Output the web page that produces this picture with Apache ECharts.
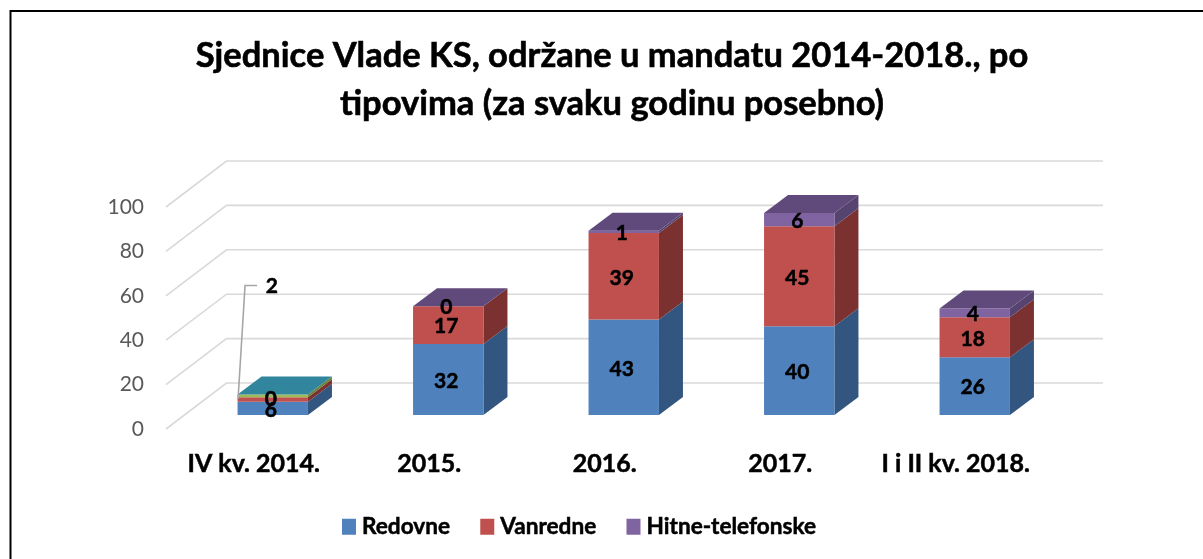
<!DOCTYPE html>
<html>
<head>
<meta charset="utf-8">
<style>html,body{margin:0;padding:0;background:#fff}#c{width:1203px;height:559px}</style>
<script src="https://cdn.jsdelivr.net/npm/echarts@6/dist/echarts.min.js"></script>
</head>
<body>
<div id="c"></div>
<script>
const categories = ['IV kv. 2014.', '2015.', '2016.', '2017.', 'I i II kv. 2018.'];
const yTicks = [0, 20, 40, 60, 80, 100];
const redovne = [6, 32, 43, 40, 26];
const vanredne = [2, 17, 39, 45, 18];
const hitne = [0, 0, 1, 6, 4];
// two unnamed series that only appear on the first bar (not in the legend)
const unnamedGreen = [1.2, null, null, null, null];
const unnamedTeal = [0, null, null, null, null];

const FONT = 'Lato, Carlito, sans-serif';
const stacks = [
  {name: 'Redovne', values: redovne, front: '#4f81bd', side: '#32567f', top: '#3c6696', label: true},
  {name: 'Vanredne', values: vanredne, front: '#c0504d', side: '#7a312f', top: '#923b39', label: true},
  {name: 'Hitne-telefonske', values: hitne, front: '#8064a2', side: '#57436f', top: '#604a7b', label: true},
  {name: 'unnamedGreen', values: unnamedGreen, front: '#9bbb59', side: '#6b823d', top: '#7a9445', label: false},
  {name: 'unnamedTeal', values: unnamedTeal, front: '#31859c', side: '#2a6f83', top: '#31859c', label: false}
];

// oblique projection: where the bars stand relative to the axis plane
const INSET = {x: 19, y: -14};
const DEPTH = {x: 24, y: -18};
const BACK = {x: 60.5, y: -46};
const BAR_W = 70.4;
const GRID_END = 1103;

function renderGrid(params, api) {
  const p = api.coord([0, api.value(1)]);
  const x0 = params.coordSys.x;
  const y = p[1];
  return {
    type: 'polyline',
    shape: {points: [[x0, y], [x0 + BACK.x, y + BACK.y], [GRID_END, y + BACK.y]]},
    style: {fill: 'none', stroke: '#d9d9d9', lineWidth: 1.6}
  };
}

function isTopOfStack(si, ci) {
  for (let k = stacks.length - 1; k > si; k--) {
    if (stacks[k].values[ci] !== null) return false;
  }
  return true;
}

function makeRender(si) {
  const s = stacks[si];
  return function (params, api) {
    const ci = api.value(0);
    const base = api.value(1);
    const top = api.value(2);
    const value = s.values[ci];
    if (value === null) return null;
    const a = api.coord([ci, base]);
    const b = api.coord([ci, top]);
    const xl = a[0] + INSET.x - BAR_W / 2;
    const xr = xl + BAR_W;
    const yb = a[1] + INSET.y;
    const yt = b[1] + INSET.y;
    const dx = DEPTH.x, dy = DEPTH.y;
    const children = [];
    if (yb - yt > 0) {
      children.push({type: 'polygon', shape: {points: [[xr, yb], [xr + dx, yb + dy], [xr + dx, yt + dy], [xr, yt]]},
        style: {fill: s.side}});
      children.push({type: 'rect', shape: {x: xl, y: yt, width: BAR_W, height: yb - yt},
        style: {fill: s.front}});
    }
    if (isTopOfStack(si, ci)) {
      children.push({type: 'polygon', shape: {points: [[xl, yt], [xl + dx, yt + dy], [xr + dx, yt + dy], [xr, yt]]},
        style: {fill: s.top}});
    }
    return {type: 'group', children: children};
  };
}

function renderLabels(params, api) {
  const ci = api.value(0);
  const base = api.value(1);
  const top = api.value(2);
  const value = api.value(3);
  const leader = api.value(4);
  const a = api.coord([ci, base]);
  const b = api.coord([ci, top]);
  const cx = a[0] + INSET.x - 2;
  const cy = (a[1] + b[1]) / 2 + INSET.y + 1.5;
  const children = [];
  let tx = cx, ty = cy;
  if (leader) {
    const x0 = a[0] + INSET.x - BAR_W / 2;
    tx = cx + 1; ty = 286;
    children.push({type: 'polyline',
      shape: {points: [[x0 + 0.5, cy - 2], [x0 + 7.5, 285.5], [x0 + 19.5, 285.5]]},
      style: {fill: 'none', stroke: '#a6a6a6', lineWidth: 1.6}});
  }
  children.push({type: 'text', style: {x: tx, y: ty, text: String(value), fill: '#000',
    font: 'bold 21px ' + FONT, textAlign: 'center', textVerticalAlign: 'middle',
    stroke: '#000', lineWidth: 0.5}});
  return {type: 'group', children: children};
}

// build cumulative stack rows
const running = categories.map(() => 0);
const barSeries = [];
const labelData = [];
stacks.forEach((s, si) => {
  const rows = categories.map((c, ci) => {
    const v = s.values[ci];
    const base = running[ci];
    const top = base + (v === null ? 0 : v);
    running[ci] = top;
    if (s.label) {
      labelData.push([ci, base, top, v, (s.name === 'Vanredne' && v < 3) ? 1 : 0]);
    }
    return [ci, base, top];
  });
  barSeries.push({
    type: 'custom', name: s.name, data: rows, renderItem: makeRender(si),
    coordinateSystem: 'cartesian2d', clip: false, z: 3,
    itemStyle: {color: s.front}, encode: {x: 0, y: 2}, silent: true
  });
});

const option = {
  animation: false,
  backgroundColor: '#fff',
  title: {
    text: 'Sjednice Vlade KS, održane u mandatu 2014-2018., po\ntipovima (za svaku godinu posebno)',
    left: 607, top: 27, textAlign: 'center',
    textStyle: {fontFamily: FONT, fontWeight: 'bold', fontSize: 34.5, lineHeight: 48, color: '#000',
      textBorderColor: '#000', textBorderWidth: 0.6}
  },
  legend: {
    data: ['Redovne', 'Vanredne', 'Hitne-telefonske'],
    left: 337, top: 510, icon: 'rect', itemWidth: 14, itemHeight: 16, itemGap: 30,
    textStyle: {fontFamily: FONT, fontWeight: 'bold', fontSize: 22.6, color: '#000', padding: [0, 0, 0, 1],
      textBorderColor: '#000', textBorderWidth: 0.5}
  },
  grid: {left: 166, top: 207, width: 877.5, height: 222, containLabel: false},
  xAxis: {
    type: 'category', data: categories,
    axisLine: {show: false}, axisTick: {show: false}, splitLine: {show: false},
    axisLabel: {margin: 22, fontFamily: FONT, fontWeight: 'bold', fontSize: 25, color: '#000', interval: 0,
      textBorderColor: '#000', textBorderWidth: 0.5}
  },
  yAxis: {
    type: 'value', min: 0, max: 100, interval: 20, data: yTicks,
    axisLine: {show: false}, axisTick: {show: false}, splitLine: {show: false},
    axisLabel: {margin: 22, fontFamily: FONT, fontSize: 21, color: '#595959', padding: [4, 0, 0, 0]}
  },
  series: [
    {type: 'custom', name: 'grid', data: yTicks.map(t => [0, t]), renderItem: renderGrid,
     encode: {x: 0, y: 1}, clip: false, z: 1, silent: true}
  ].concat(barSeries, [
    {type: 'custom', name: 'labels', data: labelData, renderItem: renderLabels,
     encode: {x: 0, y: 2}, clip: false, z: 5, silent: true}
  ]),
  graphic: [
    {type: 'polyline', shape: {points: [[10.5, 559], [10.5, 11], [1203, 11]]},
     style: {fill: 'none', stroke: '#000', lineWidth: 2}, z: 10, silent: true}
  ]
};

const chart = echarts.init(document.getElementById('c'));
chart.setOption(option);
</script>
</body>
</html>
